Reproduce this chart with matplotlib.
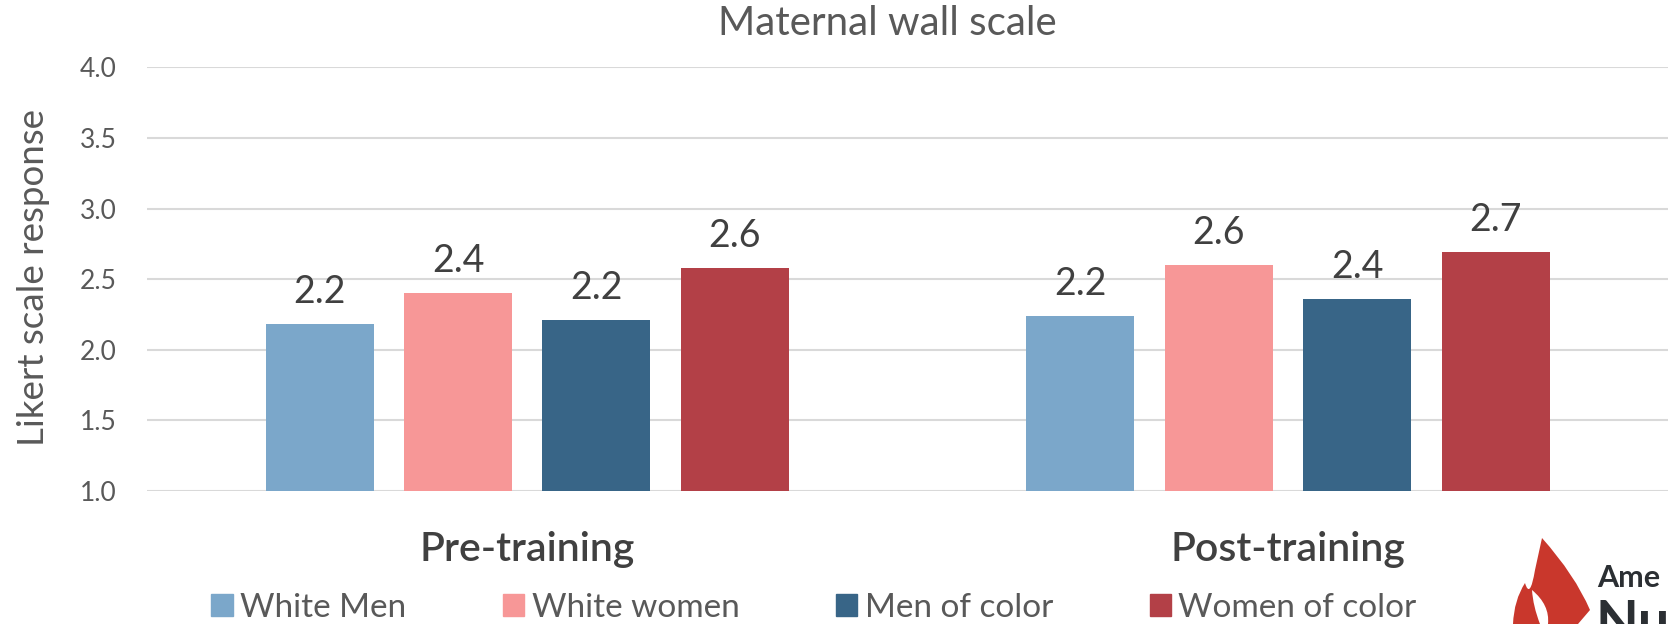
import matplotlib
matplotlib.use("Agg")
import matplotlib.pyplot as plt
import numpy as np
from matplotlib.path import Path
from matplotlib.patches import PathPatch, Patch

plt.rcParams['font.family'] = ['Lato', 'DejaVu Sans']

# data
groups = ['Pre-training', 'Post-training']
series = ['White Men', 'White women', 'Men of color', 'Women of color']
values = {
    'White Men': [2.18, 2.24],
    'White women': [2.40, 2.60],
    'Men of color': [2.21, 2.36],
    'Women of color': [2.58, 2.69],
}
colors = ['#7BA7CA', '#F79797', '#386587', '#B34047']
yticks = [1.0, 1.5, 2.0, 2.5, 3.0, 3.5, 4.0]

txt = '#595959'

fig = plt.figure(figsize=(16.68, 6.24), dpi=100)
ax = fig.add_axes([0.0881, 0.213, 0.912, 0.679])

x = np.arange(len(groups))
step = 0.182
width = 0.142
for i, s in enumerate(series):
    off = (i - 1.5) * step
    bars = ax.bar(x + off, np.array(values[s]) - 1.0, width, bottom=1.0,
                  color=colors[i], zorder=3)
    for b, v in zip(bars, values[s]):
        ax.text(b.get_x() + b.get_width() / 2, v + 0.1, f'{v:.1f}',
                ha='center', va='bottom', fontsize=27, color='#404040')

ax.set_xlim(-0.5, 1.5)
ax.set_ylim(1.0, 4.0)
ax.set_yticks(yticks)
ax.set_yticklabels([f'{t:.1f}' for t in yticks])
ax.grid(axis='y', color='#D9D9D9', linewidth=1.5, zorder=0)
ax.set_axisbelow(True)
for sp in ax.spines.values():
    sp.set_visible(False)
ax.tick_params(axis='y', length=0, labelsize=19, labelcolor=txt, pad=22)
ax.tick_params(axis='x', length=0, labelsize=29.5, labelcolor='#404040', pad=29)
ax.set_xticks(x)
ax.set_xticklabels(groups, fontweight='semibold')
ax.set_ylabel('Likert scale response', fontsize=26.5, color=txt)
ax.yaxis.set_label_coords(-0.064, 0.505)

fig.text(0.532, 0.963, 'Maternal wall scale', ha='center', va='center',
         fontsize=29, color=txt)

handles = [Patch(color=c) for c in colors]
fig.legend(handles, series, loc='center', bbox_to_anchor=(0.488, 0.026),
           ncol=4, frameon=False, fontsize=24, labelcolor=txt,
           handlelength=0.64, handleheight=0.64, handletextpad=0.22,
           columnspacing=2.9, borderaxespad=0)

# partial logo in the corner (cropped in the original)
W, H = 1668.0, 624.0
def fp(px, py):
    return (px / W, 1 - py / H)

flame = [fp(1542, 538), fp(1575, 575), fp(1590, 610), fp(1578, 624),
         fp(1513, 624), fp(1514, 600), fp(1525, 583), fp(1530, 600),
         fp(1535, 570), fp(1542, 538)]
codes = [Path.MOVETO, Path.CURVE3, Path.CURVE3, Path.LINETO, Path.LINETO,
         Path.CURVE3, Path.CURVE3, Path.CURVE3, Path.CURVE3, Path.CLOSEPOLY]
fig.patches.append(PathPatch(Path(flame, codes), transform=fig.transFigure,
                             facecolor='#C9372C', edgecolor='none'))
inner = [fp(1532, 590), fp(1550, 605), fp(1548, 624), fp(1540, 624),
         fp(1533, 606), fp(1532, 590)]
icodes = [Path.MOVETO, Path.CURVE3, Path.CURVE3, Path.LINETO, Path.CURVE3,
          Path.CURVE3]
fig.patches.append(PathPatch(Path(inner, icodes), transform=fig.transFigure,
                             facecolor='white', edgecolor='none'))
fig.text(1597 / W, 1 - 587 / H, 'Ame', fontsize=22, fontweight='bold',
         color='#2B2F33', va='baseline', ha='left')
fig.text(1596 / W, 1 - 640 / H, 'Nu', fontsize=40, fontweight='bold',
         color='#2B2F33', va='baseline', ha='left')

fig.savefig('out.png', dpi=100)
